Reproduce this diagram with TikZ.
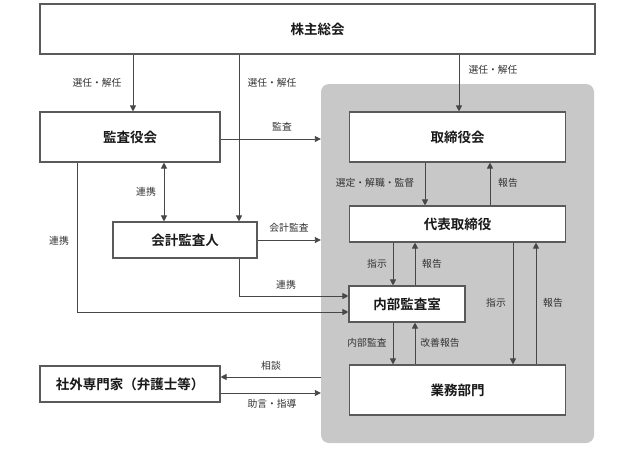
\documentclass[tikz,border=0pt]{standalone}
\usepackage{fontspec}
\newfontfamily\jp{Noto Sans CJK JP}[BoldFont={Noto Sans CJK JP Bold}]
\usetikzlibrary{arrows.meta}
\definecolor{linec}{HTML}{474747}
\definecolor{boxc}{HTML}{5A5A5A}
\definecolor{bgc}{HTML}{C8C8C8}
\begin{document}
\begin{tikzpicture}[x=1pt,y=-1pt,
  every node/.style={font=\jp},
  orgbox/.style={draw=boxc, line width=1.1pt, fill=white, inner sep=0pt,
     font=\jp\bfseries\fontsize{13.5}{16}\selectfont, text=black!90},
  bgbox/.style={fill=bgc, rounded corners=8pt, inner sep=0pt},
  lbl/.style={font=\jp\fontsize{9.8}{12}\selectfont, text=black!80, inner sep=0pt},
  arr/.style={draw=linec, line width=0.9pt, -{Triangle[length=6pt,width=6pt]}},
  darr/.style={draw=linec, line width=0.9pt, {Triangle[length=6pt,width=6pt]}-{Triangle[length=6pt,width=6pt]}}
]
\useasboundingbox (0,0) rectangle (628,452);
\fill[white] (0,0) rectangle (628,452);

\node[bgbox, minimum width=273pt, minimum height=359pt] (bg) at (457.5,263.5) {};

\node[orgbox, minimum width=555pt, minimum height=50pt] (kabu) at (317.5,29) {株主総会};
\node[orgbox, minimum width=180pt, minimum height=50pt] (kansa) at (130,137) {監査役会};
\node[orgbox, minimum width=216pt, minimum height=50pt] (tori) at (457.5,137) {取締役会};
\node[orgbox, minimum width=216pt, minimum height=36pt] (daihyo) at (457.5,224) {代表取締役};
\node[orgbox, minimum width=144pt, minimum height=36pt] (kaikei) at (185,240) {会計監査人};
\node[orgbox, minimum width=116pt, minimum height=36pt] (naibu) at (407,304) {内部監査室};
\node[orgbox, minimum width=216pt, minimum height=50pt] (gyomu) at (457.5,390) {業務部門};
\node[orgbox, minimum width=180pt, minimum height=36pt] (shagai) at (130,384) {社外専門家（弁護士等）};

% from shareholders meeting
\draw[arr] (kabu.south -| 133,0) -- (kansa.north -| 133,0);
\draw[arr] (kabu.south -| 239,0) -- (kaikei.north -| 239,0);
\draw[arr] (kabu.south -| 459,0) -- (tori.north -| 459,0);
\node[lbl] (l1) at (97,83) {選任・解任};
\node[lbl] (l2) at (272,83) {選任・解任};
\node[lbl] (l3) at (493,70) {選任・解任};

% audit board
\draw[arr] (kansa.east |- 0,139) -- (bg.west |- 0,139);
\node[lbl] (l4) at (282,127) {監査};
\draw[darr] (kansa.south -| 164,0) -- (kaikei.north -| 164,0);
\node[lbl] (l5) at (146,192) {連携};
\draw[arr] (kansa.south -| 77,0) |- (naibu.west |- 0,312);
\node[lbl] (l6) at (59,241) {連携};

% accounting auditor
\draw[arr] (kaikei.east) -- (kaikei.east -| bg.west);
\node[lbl] (l7) at (289,228) {会計監査};
\draw[arr] (kaikei.south -| 239,0) |- (naibu.west |- 0,296);
\node[lbl] (l8) at (286,285) {連携};

% board and representative director
\draw[arr] (tori.south -| 425,0) -- (daihyo.north -| 425,0);
\node[lbl] (l9) at (375,183) {選定・解職・監督};
\draw[arr] (daihyo.north -| 490,0) -- (tori.south -| 490,0);
\node[lbl] (l10) at (508,183) {報告};

% representative director and internal audit
\draw[arr] (daihyo.south -| 393,0) -- (naibu.north -| 393,0);
\node[lbl] (l11) at (377,264) {指示};
\draw[arr] (naibu.north -| 415,0) -- (daihyo.south -| 415,0);
\node[lbl] (l12) at (432,264) {報告};

% representative director and business divisions
\draw[arr] (daihyo.south -| 513,0) -- (gyomu.north -| 513,0);
\node[lbl] (l13) at (496,303) {指示};
\draw[arr] (gyomu.north -| 536,0) -- (daihyo.south -| 536,0);
\node[lbl] (l14) at (553,303) {報告};

% internal audit and business divisions
\draw[arr] (naibu.south -| 393,0) -- (gyomu.north -| 393,0);
\node[lbl] (l15) at (367,343) {内部監査};
\draw[arr] (gyomu.north -| 415,0) -- (naibu.south -| 415,0);
\node[lbl] (l16) at (440,343) {改善報告};

% outside experts
\draw[arr] (bg.west |- 0,377) -- (shagai.east |- 0,377);
\node[lbl] (l17) at (271,366) {相談};
\draw[arr] (shagai.east |- 0,393) -- (bg.west |- 0,393);
\node[lbl] (l18) at (272,404) {助言・指導};
\end{tikzpicture}
\end{document}
